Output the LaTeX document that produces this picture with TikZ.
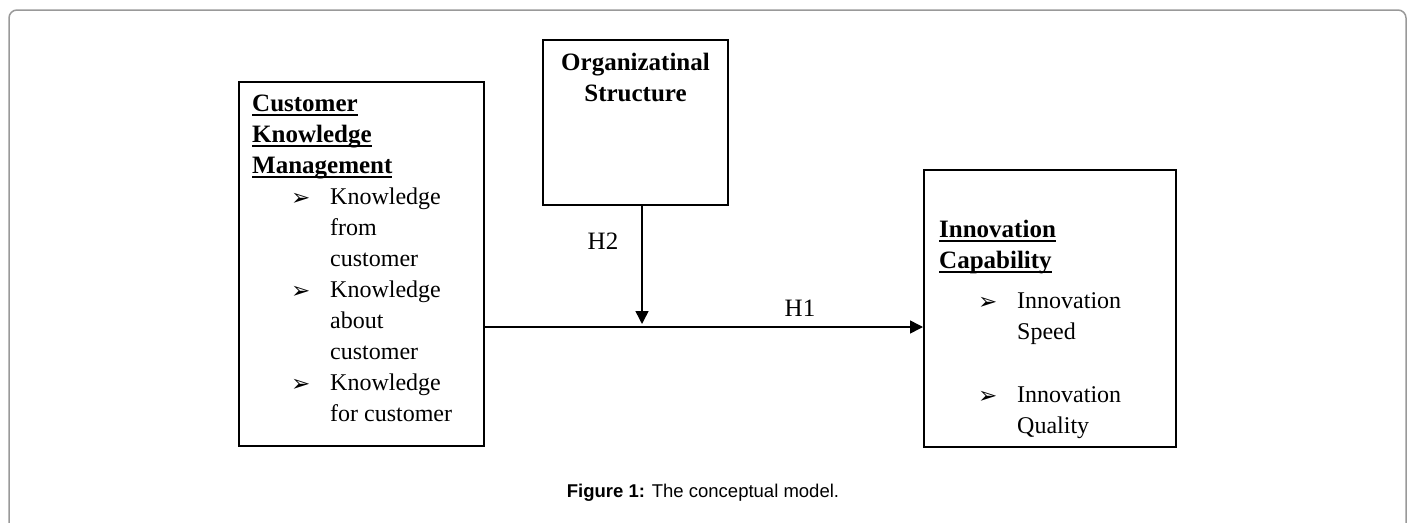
\documentclass[tikz,border=0pt]{standalone}
\usepackage{fontspec}
\setmainfont{Liberation Serif}
\newfontfamily\capfont{Liberation Sans}
\newfontfamily\pointerfont{DejaVu Sans}
\usetikzlibrary{
    positioning,
    arrows.meta
}

\newcommand{\ulword}[1]{\setbox0\hbox{#1}\rlap{\rule[-4pt]{\wd0}{1.8pt}}\box0}
\newcommand{\headfont}{\fontsize{25}{31}\selectfont\bfseries}
\newcommand{\pointer}{\raisebox{-1pt}{\pointerfont\fontsize{23}{23}\selectfont\char"27A2}}
\newcommand{\itemline}{\hspace*{39pt}\makebox[39pt][l]{\pointer}}
\newcommand{\itemcont}{\hspace*{78pt}}

\begin{document}
\begin{tikzpicture}[
    x=1pt, y=-1pt,
    every node/.style={font=\fontsize{24}{31}\selectfont},
    panel/.style={rectangle, draw, line width=2pt},
    boxtext/.style={align=left, inner sep=0pt},
    headtext/.style={align=center, inner sep=0pt, font=\headfont},
    hlabel/.style={inner sep=0pt, font=\fontsize{25}{30}\selectfont},
    link/.style={-{Triangle[length=13pt, width=13pt]}, line width=1.5pt},
    frame/.style={draw=black!40, line width=1.5pt, rounded corners=8pt},
    caption/.style={inner sep=0pt, font=\capfont\fontsize{18.5}{20}\selectfont}
]
\useasboundingbox (0,0) rectangle (1413,522);

% outer frame
\draw[frame] (9,540) |- (1406,10) -- (1406,540);

% ================= BOXES =================
\node[panel, minimum width=245pt, minimum height=364pt] (ckm) at (361.5,264) {};
\node[panel, minimum width=185pt, minimum height=165pt] (org) at (635.5,122.5) {};
\node[panel, minimum width=252pt, minimum height=277pt] (inno) at (1050,308.5) {};

% ================= TEXT =================
\node[boxtext, below right=14pt and 14pt of ckm.north west] (ckmtext) {%
    {\headfont\ulword{Customer}}\\
    {\headfont\ulword{Knowledge}}\\
    {\headfont\ulword{Management}}\\
    \itemline Knowledge\\
    \itemcont from\\
    \itemcont customer\\
    \itemline Knowledge\\
    \itemcont about\\
    \itemcont customer\\
    \itemline Knowledge\\
    \itemcont for customer};

\node[headtext, below=14pt of org.north] (orgtext) {Organizatinal\\Structure};

\node[boxtext, below right=51pt and 16pt of inno.north west] (innotext) {%
    {\headfont\ulword{Innovation}}\\
    {\headfont\ulword{Capability}}\\[9pt]
    \itemline Innovation\\
    \itemcont Speed\\[32pt]
    \itemline Innovation\\
    \itemcont Quality};

% ================= ARROWS =================
\coordinate (hub) at (642,327);
\draw[link] (ckm.east |- hub) -- (inno.west |- hub);
\draw[link, shorten >=3pt] (org.south -| hub) -- (hub);

\node[hlabel] (h2) at (603,241) {H2};
\node[hlabel] (h1) at (800,308) {H1};

% ================= CAPTION =================
\node[caption, anchor=base] (cap) at (703,497) {\textbf{Figure 1:} The conceptual model.};

\end{tikzpicture}
\end{document}
